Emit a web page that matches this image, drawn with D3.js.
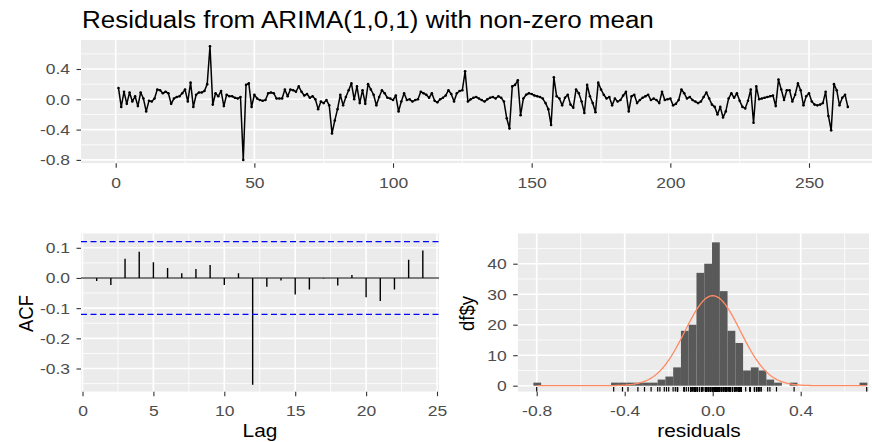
<!DOCTYPE html>
<html>
<head>
<meta charset="utf-8">
<script src="https://d3js.org/d3.v7.min.js"></script>
<style>
body { margin: 0; background: #fff; }
svg { display: block; font-family: "Liberation Sans", Arial, sans-serif; }
</style>
</head>
<body>
<svg id="chart" width="872" height="442"></svg>
<script>
// residual series, t = 1..264
var residuals = [
  0.15, -0.10, 0.10, -0.06, 0.09, -0.03, 0.04, -0.09, 0.09, 0.01,
  -0.16, -0.02, -0.03, 0.01, 0.13, 0.12, 0.08, 0.10, 0.08, -0.06,
  0.01, 0.03, 0.04, 0.08, 0.13, -0.03, 0.22, -0.10, 0.06, 0.09,
  0.09, 0.11, 0.20, 0.70, -0.07, 0.08, 0.04, 0.11, -0.09, 0.06,
  0.04, 0.04, 0.02, 0.01, 0.03, -0.80, 0.19, 0.21, -0.10, 0.06,
  0.01, -0.01, -0.02, -0.01, 0.08, 0.09, 0.08, 0.01, 0.01, 0.01,
  0.13, 0.04, 0.13, 0.12, 0.10, 0.17, 0.10, 0.05, 0.07, 0.02,
  0.04, 0.00, -0.13, -0.03, -0.05, -0.01, -0.08, -0.45, -0.28, -0.13,
  0.06, -0.08, 0.03, 0.12, 0.21, 0.00, 0.17, -0.05, 0.12, -0.06,
  0.20, 0.13, 0.06, -0.08, 0.03, 0.12, 0.08, 0.02, 0.01, -0.01,
  0.05, -0.16, -0.03, 0.08, -0.01, 0.00, -0.03, -0.01, 0.00, 0.10,
  0.08, 0.06, 0.02, 0.08, -0.02, -0.04, 0.00, 0.02, 0.05, 0.12,
  0.07, -0.03, 0.08, 0.11, 0.12, 0.37, -0.03, 0.00, 0.02, 0.03,
  0.01, -0.01, -0.03, 0.00, 0.02, 0.03, 0.01, 0.04, 0.02, -0.03,
  -0.25, -0.385, 0.17, 0.19, 0.25, -0.21, 0.01, 0.06, 0.08, 0.07,
  0.05, 0.04, 0.03, 0.01, -0.05, -0.13, -0.34, 0.29, 0.04, 0.01,
  -0.08, 0.02, 0.06, -0.07, -0.11, 0.13, 0.08, -0.03, -0.18, 0.19,
  0.04, -0.05, -0.17, 0.22, 0.13, 0.06, 0.01, 0.03, -0.08, 0.01,
  -0.03, -0.01, 0.05, 0.10, -0.16, 0.04, 0.06, -0.05, -0.01, 0.02,
  0.04, 0.06, -0.01, 0.01, -0.01, -0.05, 0.10, -0.01, 0.00, 0.01,
  -0.08, -0.06, -0.01, 0.13, 0.08, 0.01, 0.03, -0.01, -0.03, -0.05,
  -0.03, 0.03, 0.09, 0.01, -0.07, -0.10, -0.20, -0.10, -0.24, -0.16,
  0.01, 0.08, 0.02, 0.08, -0.02, -0.10, -0.12, -0.02, 0.13, -0.31,
  0.17, 0.00, 0.01, 0.02, 0.03, 0.04, 0.05, -0.09, 0.26, 0.13,
  -0.01, 0.12, 0.12, -0.03, 0.06, 0.21, 0.12, -0.08, 0.04, 0.08,
  -0.03, -0.07, -0.08, -0.07, -0.05, 0.10, -0.22, -0.41, 0.20, 0.12,
  -0.08, 0.02, 0.06, -0.10
];

// acf of the residuals
var acfLags = [1, 2, 3, 4, 5, 6, 7, 8, 9, 10, 11, 12, 13, 14, 15, 16, 17, 18, 19, 20, 21, 22, 23, 24];
var acfValues = [-0.010, -0.023, 0.064, 0.087, 0.052, 0.033, 0.016, 0.030, 0.043, -0.023, 0.016, -0.354,
                 -0.029, -0.008, -0.055, -0.038, -0.002, -0.025, 0.010, -0.064, -0.076, -0.038, 0.060, 0.091];

// histogram bins
var binStart = -0.815;
var binWidth = 0.0353;
var binCounts = [1, 0, 0, 0, 0, 0, 0, 0, 0, 0,
                 1, 1, 1, 1, 1, 1, 2, 3, 6, 18,
                 20, 37, 40, 47, 31, 18, 14, 5, 6, 5,
                 2, 1, 0, 1, 0, 0, 0, 0, 0, 0,
                 0, 0, 1];

// normal curve
var normMean = 0.0;
var normSd = 0.126;

// tick labels
var topXTicks = [0, 50, 100, 150, 200, 250];
var topXMinor = [25, 75, 125, 175, 225, 275];
var topYTicks = [-0.8, -0.4, 0.0, 0.4];
var topYMinor = [-0.6, -0.2, 0.2, 0.6];
var acfXTicks = [0, 5, 10, 15, 20, 25];
var acfXMinor = [2.5, 7.5, 12.5, 17.5, 22.5];
var acfYTicks = [-0.3, -0.2, -0.1, 0.0, 0.1];
var acfYMinor = [-0.35, -0.25, -0.15, -0.05, 0.05, 0.15];
var histXTicks = [-0.8, -0.4, 0.0, 0.4];
var histXMinor = [-0.6, -0.2, 0.2, 0.6];
var histYTicks = [0, 10, 20, 30, 40];
var histYMinor = [5, 15, 25, 35, 45];

var svg = d3.select("#chart");
var sx = 1.13; // the text in the picture is a bit wider than tall

var fmt1 = function(d) { return d.toFixed(1); };
var fmt0 = function(d) { return String(d); };

// panel boxes
var topBox = {left: 81, top: 40, right: 872, bottom: 163.3};
var acfBox = {left: 81, top: 233.3, right: 439, bottom: 391.7};
var histBox = {left: 517.7, top: 233.3, right: 869, bottom: 391.7};

// scales
var tx = d3.scaleLinear().domain([0, 250]).range([115.7, 809]);
var ty = d3.scaleLinear().domain([-0.8, 0.4]).range([159.9, 69.0]);
var ax = d3.scaleLinear().domain([0, 25]).range([82.5, 437]);
var ay = d3.scaleLinear().domain([-0.3, 0.1]).range([368.5, 247.8]);
var hx = d3.scaleLinear().domain([-0.8, 0.4]).range([536.7, 800.7]);
var hy = d3.scaleLinear().domain([0, 40]).range([385.7, 263.7]);

function panel(id, box) {
  svg.append("clipPath").attr("id", id).append("rect")
    .attr("x", box.left).attr("y", box.top)
    .attr("width", box.right - box.left).attr("height", box.bottom - box.top);
  var g = svg.append("g").attr("clip-path", "url(#" + id + ")");
  g.append("rect")
    .attr("x", box.left).attr("y", box.top)
    .attr("width", box.right - box.left).attr("height", box.bottom - box.top)
    .attr("fill", "#EBEBEB");
  return g;
}

function grid(g, box, x, y, xMajor, xMinor, yMajor, yMinor) {
  function hlines(vals, w) {
    g.selectAll(null).data(vals).enter().append("line")
      .attr("x1", box.left).attr("x2", box.right)
      .attr("y1", function(d) { return y(d); }).attr("y2", function(d) { return y(d); })
      .attr("stroke", "#fff").attr("stroke-width", w);
  }
  function vlines(vals, w) {
    g.selectAll(null).data(vals).enter().append("line")
      .attr("y1", box.top).attr("y2", box.bottom)
      .attr("x1", function(d) { return x(d); }).attr("x2", function(d) { return x(d); })
      .attr("stroke", "#fff").attr("stroke-width", w);
  }
  hlines(yMinor, 0.8);
  vlines(xMinor, 0.8);
  hlines(yMajor, 1.6);
  vlines(xMajor, 1.6);
}

function styleAxis(a) {
  a.attr("font-size", 15.5).attr("font-family", null);
  a.select(".domain").remove();
  a.selectAll(".tick line").attr("stroke", "#333333").attr("stroke-width", 1.1);
  a.selectAll(".tick text").attr("fill", "#4D4D4D").attr("transform", "scale(" + sx + ",1)");
}

function bottomAxis(scale, ticks, fmt, yPos) {
  var a = svg.append("g").attr("transform", "translate(0," + yPos + ")")
    .call(d3.axisBottom(scale).tickValues(ticks).tickFormat(fmt)
      .tickSize(4.5).tickSizeOuter(0).tickPadding(9));
  styleAxis(a);
}

function leftAxis(scale, ticks, fmt, xPos) {
  var a = svg.append("g").attr("transform", "translate(" + xPos + ",0)")
    .call(d3.axisLeft(scale).tickValues(ticks).tickFormat(fmt)
      .tickSize(4.5).tickSizeOuter(0).tickPadding(5.2));
  styleAxis(a);
}

function label(txt, x, y, size, rotate) {
  var t = svg.append("text").attr("font-size", size).attr("fill", "#000").text(txt);
  if (rotate) {
    t.attr("text-anchor", "middle")
     .attr("transform", "translate(" + x + "," + y + ") rotate(-90) scale(1," + sx + ")");
  } else {
    t.attr("transform", "translate(" + x + "," + y + ") scale(" + sx + ",1)");
  }
  return t;
}

// title
label("Residuals from ARIMA(1,0,1) with non-zero mean", 82, 28, 23, false);

// ---- top panel: residual series
var gTop = panel("clipTop", topBox);
grid(gTop, topBox, tx, ty, topXTicks, topXMinor, topYTicks, topYMinor);

var line = d3.line()
  .x(function(d, i) { return tx(i + 1); })
  .y(function(d) { return ty(d); });

gTop.append("path").datum(residuals)
  .attr("d", line).attr("fill", "none")
  .attr("stroke", "#000").attr("stroke-width", 1.5).attr("stroke-linejoin", "round");

gTop.selectAll(null).data(residuals).enter().append("circle")
  .attr("cx", function(d, i) { return tx(i + 1); })
  .attr("cy", function(d) { return ty(d); })
  .attr("r", 1.3).attr("fill", "#000");

bottomAxis(tx, topXTicks, fmt0, topBox.bottom);
leftAxis(ty, topYTicks, fmt1, topBox.left);

// ---- acf panel
var gAcf = panel("clipAcf", acfBox);
grid(gAcf, acfBox, ax, ay, acfXTicks, acfXMinor, acfYTicks, acfYMinor);

var acfLimit = 1.96 / Math.sqrt(residuals.length);

gAcf.append("line")
  .attr("x1", acfBox.left).attr("x2", acfBox.right)
  .attr("y1", ay(0)).attr("y2", ay(0))
  .attr("stroke", "#000").attr("stroke-width", 1.2);

gAcf.selectAll(null).data(acfValues).enter().append("line")
  .attr("x1", function(d, i) { return ax(acfLags[i]); })
  .attr("x2", function(d, i) { return ax(acfLags[i]); })
  .attr("y1", ay(0))
  .attr("y2", function(d) { return ay(d); })
  .attr("stroke", "#000").attr("stroke-width", 1.4);

gAcf.selectAll(null).data([acfLimit, -acfLimit]).enter().append("line")
  .attr("x1", acfBox.left).attr("x2", acfBox.right)
  .attr("y1", function(d) { return ay(d); }).attr("y2", function(d) { return ay(d); })
  .attr("stroke", "#0000FF").attr("stroke-width", 1.3).attr("stroke-dasharray", "6,3.5");

bottomAxis(ax, acfXTicks, fmt0, acfBox.bottom);
leftAxis(ay, acfYTicks, fmt1, acfBox.left);
label("Lag", 260, 437, 18.5, false).attr("text-anchor", "middle");
label("ACF", 33, 313.5, 18.5, true);

// ---- histogram panel
var gHist = panel("clipHist", histBox);
grid(gHist, histBox, hx, hy, histXTicks, histXMinor, histYTicks, histYMinor);

var bins = binCounts.map(function(c, i) {
  return {x0: binStart + i * binWidth, x1: binStart + (i + 1) * binWidth, n: c};
}).filter(function(b) { return b.n > 0; });

gHist.selectAll(null).data(bins).enter().append("rect")
  .attr("x", function(b) { return hx(b.x0); })
  .attr("width", function(b) { return hx(b.x1) - hx(b.x0); })
  .attr("y", function(b) { return hy(b.n); })
  .attr("height", function(b) { return hy(0) - hy(b.n); })
  .attr("fill", "#595959");

// normal density scaled to counts
var total = d3.sum(binCounts);
var ext = d3.extent(residuals);
var xs = d3.range(ext[0], ext[1] + 0.0001, 0.004);
var normPts = xs.map(function(v) {
  var z = (v - normMean) / normSd;
  return [v, total * binWidth * Math.exp(-0.5 * z * z) / (normSd * Math.sqrt(2 * Math.PI))];
});
gHist.append("path").datum(normPts)
  .attr("d", d3.line().x(function(d) { return hx(d[0]); }).y(function(d) { return hy(d[1]); }))
  .attr("fill", "none").attr("stroke", "#FF8A62").attr("stroke-width", 1.3);

// rug
gHist.selectAll(null).data(residuals).enter().append("line")
  .attr("x1", function(d) { return hx(d); }).attr("x2", function(d) { return hx(d); })
  .attr("y1", histBox.bottom).attr("y2", histBox.bottom - 4.8)
  .attr("stroke", "#000").attr("stroke-width", 1.2);

bottomAxis(hx, histXTicks, fmt1, histBox.bottom);
leftAxis(hy, histYTicks, fmt0, histBox.left);
label("residuals", 699, 437, 18.5, false).attr("text-anchor", "middle");
label("df$y", 474, 313.5, 18.5, true);
</script>
</body>
</html>
